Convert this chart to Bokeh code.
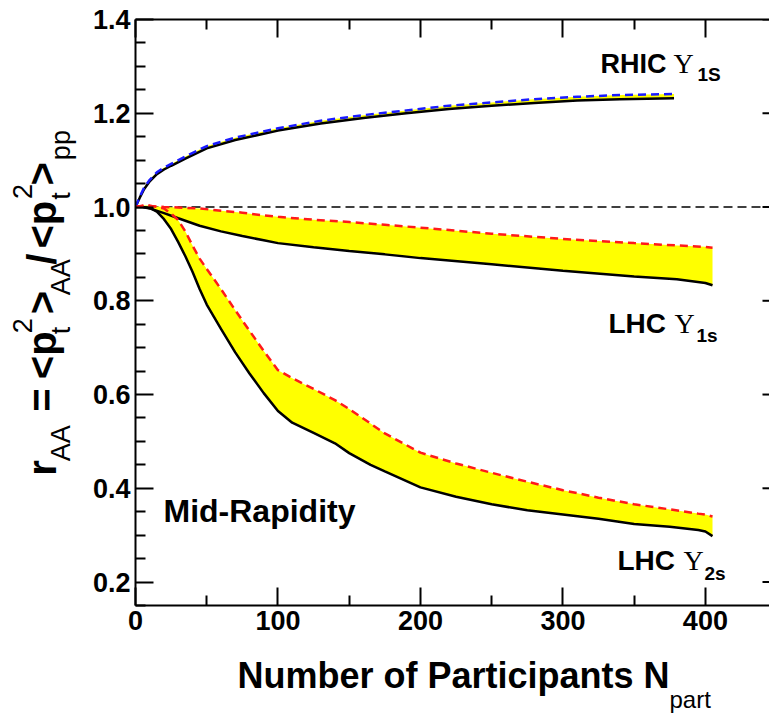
from math import pi
import numpy as np
from bokeh.plotting import figure
from bokeh.layouts import row, column
from bokeh.models import (LinearAxis, FixedTicker, Range1d, Label, Span, PrintfTickFormatter,
                          CustomJSTickFormatter)
from bokeh.embed import file_html
from bokeh.resources import INLINE

# ---------------- data ----------------
rhic_npart = [0, 3, 6, 10, 15, 20, 25, 35, 50, 70, 100, 130, 160, 190, 220, 250, 280, 310, 340, 378]
rhic_lower = [1.0, 1.02, 1.038, 1.055, 1.07, 1.08, 1.088, 1.103, 1.125, 1.143, 1.163, 1.178, 1.19, 1.2,
              1.209, 1.216, 1.222, 1.227, 1.23, 1.232]
rhic_upper = [1.0, 1.022, 1.041, 1.058, 1.074, 1.084, 1.092, 1.108, 1.130, 1.148, 1.168, 1.184, 1.196,
              1.206, 1.216, 1.223, 1.230, 1.235, 1.239, 1.241]

lhc1s_npart = [0, 5, 10, 20, 30, 45, 60, 75, 90, 100, 125, 150, 175, 200, 250, 300, 350, 380, 400, 405]
lhc1s_lower = [1.0, 1.0, 0.997, 0.987, 0.976, 0.96, 0.948, 0.938, 0.929, 0.923, 0.914, 0.906, 0.899,
               0.891, 0.878, 0.864, 0.852, 0.846, 0.838, 0.833]
lhc1s_upper = [1.0, 1.002, 1.002, 1.0, 0.999, 0.997, 0.992, 0.988, 0.982, 0.979, 0.973, 0.968, 0.962,
               0.956, 0.943, 0.932, 0.923, 0.918, 0.915, 0.913]

lhc2s_npart = [0, 5, 10, 15, 20, 25, 30, 35, 40, 45, 50, 60, 70, 80, 90, 100, 110, 125, 140, 150, 165,
               175, 200, 225, 250, 275, 300, 325, 350, 375, 395, 400, 405]
lhc2s_lower = [1.0, 1.0, 0.998, 0.99, 0.974, 0.953, 0.925, 0.895, 0.862, 0.825, 0.792, 0.74, 0.69, 0.645,
               0.603, 0.565, 0.54, 0.518, 0.496, 0.475, 0.45, 0.436, 0.402, 0.382, 0.366, 0.353, 0.344,
               0.335, 0.324, 0.318, 0.311, 0.308, 0.298]
lhc2s_upper = [1.0, 1.003, 1.003, 1.0, 0.997, 0.986, 0.972, 0.948, 0.918, 0.89, 0.868, 0.825, 0.78, 0.736,
               0.693, 0.652, 0.635, 0.612, 0.588, 0.569, 0.538, 0.517, 0.476, 0.453, 0.433, 0.414, 0.396,
               0.38, 0.366, 0.355, 0.346, 0.344, 0.34]

x_major_ticks = [0, 100, 200, 300, 400]
x_minor_ticks = [50, 150, 250, 350]
y_major_ticks = [0.2, 0.4, 0.6, 0.8, 1.0, 1.2, 1.4]
reference_level = 1.0

# ---------------- layout (absolute pixel plan of the 769x717 page) ----------------
W, H = 769, 717
STRIP_W = 85            # left strip holding the rotated y title
MAIN_H = 650            # height of the row (strip + main plot)
LEFT, TOP, FW, FH = 135, 19, 634, 586   # frame position on the page
X0, X1 = 0, 445
Y0, Y1 = 0.15, 1.4
PXX = FW / (X1 - X0)
PXY = FH / (Y1 - Y0)
BASE_K = 0.35           # correction: rendered baseline sits ~0.35 em below the anchor


def gx(px):
    return X0 + (px - LEFT) / PXX


def gy(py):
    return Y1 - (py - TOP) / PXY


FONT = "Liberation Sans"

p = figure(width=W - STRIP_W, height=MAIN_H, frame_width=FW, frame_height=FH,
           min_border_left=LEFT - STRIP_W, min_border_right=0, min_border_top=TOP,
           min_border_bottom=MAIN_H - TOP - FH,
           x_range=Range1d(X0, X1), y_range=Range1d(Y0, Y1),
           output_backend="svg", toolbar_location=None,
           x_axis_location=None, y_axis_location=None)
p.outline_line_color = None
p.xgrid.visible = False
p.ygrid.visible = False
p.background_fill_color = "white"
p.border_fill_color = "white"


def style_axis(ax, labels=True):
    ax.axis_line_width = 2
    ax.axis_line_color = "black"
    ax.major_tick_line_width = 2
    ax.minor_tick_line_width = 2
    ax.major_tick_in = 18
    ax.major_tick_out = 0
    ax.minor_tick_in = 10
    ax.minor_tick_out = 0
    ax.major_label_text_font = FONT
    ax.major_label_text_font_style = "bold"
    ax.major_label_text_color = "black"
    ax.major_label_text_font_size = "27px"
    if labels:
        ax.major_label_standoff = 5
    else:
        ax.formatter = CustomJSTickFormatter(code="return ''")
        ax.major_label_standoff = 0


y_minor = [float(v) for v in np.round(np.arange(0.15, 1.4001, 0.05), 2) if round(v, 2) not in y_major_ticks]

xaxis = LinearAxis(ticker=FixedTicker(ticks=x_major_ticks, minor_ticks=x_minor_ticks))
style_axis(xaxis)
p.add_layout(xaxis, "below")

xtop = LinearAxis(ticker=FixedTicker(ticks=x_major_ticks, minor_ticks=x_minor_ticks))
style_axis(xtop, labels=False)
p.add_layout(xtop, "above")

yaxis = LinearAxis(ticker=FixedTicker(ticks=y_major_ticks, minor_ticks=y_minor),
                   formatter=PrintfTickFormatter(format="%.1f"))
style_axis(yaxis)
p.add_layout(yaxis, "left")

# right-side tick stubs (frame is cut at the right edge)
n = len(y_major_ticks)
p.segment(x0=[X1 - 7 / PXX] * n, x1=[X1] * n, y0=y_major_ticks, y1=y_major_ticks,
          line_color="black", line_width=2)

# reference line
span = Span(location=reference_level, dimension="width", line_color="black",
            line_width=1.5, line_dash="9 5", level="underlay")
p.add_layout(span)

# bands
YEL = "#ffff00"
p.varea(x=rhic_npart, y1=rhic_lower, y2=rhic_upper, fill_color=YEL)
p.varea(x=lhc1s_npart, y1=lhc1s_lower, y2=lhc1s_upper, fill_color=YEL)
p.varea(x=lhc2s_npart, y1=lhc2s_lower, y2=lhc2s_upper, fill_color=YEL)

# lower (solid black) curves
for xs, ys in [(rhic_npart, rhic_lower), (lhc1s_npart, lhc1s_lower), (lhc2s_npart, lhc2s_lower)]:
    p.line(xs, ys, line_color="black", line_width=2.5)

# upper dashed curves
p.line(rhic_npart, rhic_upper, line_color="#1a1aff", line_width=2.5, line_dash="8 5")
p.line(lhc1s_npart, lhc1s_upper, line_color="#ff1a1a", line_width=2.5, line_dash="8 5")
p.line(lhc2s_npart, lhc2s_upper, line_color="#ff1a1a", line_width=2.5, line_dash="8 5")


def make_label(fig, x, y, text, size, bold=True, font=FONT, angle=0.0):
    fig.add_layout(Label(x=x, y=y, text=text, text_font=font,
                         text_font_size=f"{size}px",
                         text_font_style="bold" if bold else "normal",
                         text_baseline="alphabetic", text_align="left",
                         angle=angle, text_color="black"))


def lab(px, py, text, size, bold=True, font=FONT):
    """Label in the main plot, given the wanted baseline-start in page pixels."""
    make_label(p, gx(px), gy(py - BASE_K * size), text, size, bold, font)


# in-plot annotations
lab(163, 522, "Mid-Rapidity", 32)

lab(600, 73, "RHIC", 27)
lab(673, 73, "\u03a5", 28, bold=False, font="Liberation Serif")
lab(697, 81, "1S", 19)

lab(608, 333, "LHC", 28)
lab(674, 333, "\u03a5", 28, bold=False, font="Liberation Serif")
lab(696, 342, "1s", 19)

lab(617, 570, "LHC", 28)
lab(683, 570, "\u03a5", 28, bold=False, font="Liberation Serif")
lab(704, 580, "2s", 19)


def blank_fig(w, h, xr, yr):
    f = figure(width=w, height=h, x_range=Range1d(*xr), y_range=Range1d(*yr),
               output_backend="svg", toolbar_location=None,
               x_axis_location=None, y_axis_location=None,
               min_border=0, min_border_left=0, min_border_right=0,
               min_border_top=0, min_border_bottom=0)
    f.outline_line_color = None
    f.xgrid.visible = False
    f.ygrid.visible = False
    f.background_fill_color = "white"
    f.border_fill_color = "white"
    return f


# left strip: coordinates are page pixels (y grows downward)
ystrip = blank_fig(STRIP_W, MAIN_H, (0, STRIP_W), (MAIN_H, 0))
A = pi / 2
MB = 55   # main baseline (x pixel)
SB = 70   # subscript baseline
UB = 31   # superscript baseline
pieces = [
    (MB, 506, "r", 40, True), (SB, 490, "AA", 27, False), (MB, 435, "=", 40, True),
    (MB, 399, "<p", 40, True), (SB, 349, "t", 27, False), (UB, 348, "2", 27, False),
    (MB, 327, ">", 40, True), (SB, 306, "AA", 27, False), (MB, 272, "/", 40, True),
    (MB, 254, "<p", 40, True), (SB, 200, "t", 27, False), (UB, 199, "2", 27, False),
    (MB, 184, ">", 40, True), (SB, 156, "pp", 27, False),
]
for bx, by, t, s, b in pieces:
    make_label(ystrip, bx - BASE_K * s, by, t, s, bold=b, angle=A)

# bottom strip: coordinates are page pixels
xstrip = blank_fig(W, H - MAIN_H, (0, W), (H, MAIN_H))
make_label(xstrip, 237, 688 - BASE_K * 36, "Number of Participants N", 36)
make_label(xstrip, 669, 707 - BASE_K * 24, "part", 24, bold=False)

layout = column(row(ystrip, p, spacing=0), xstrip, spacing=0)

open("out.html", "w").write(file_html(layout, INLINE))
